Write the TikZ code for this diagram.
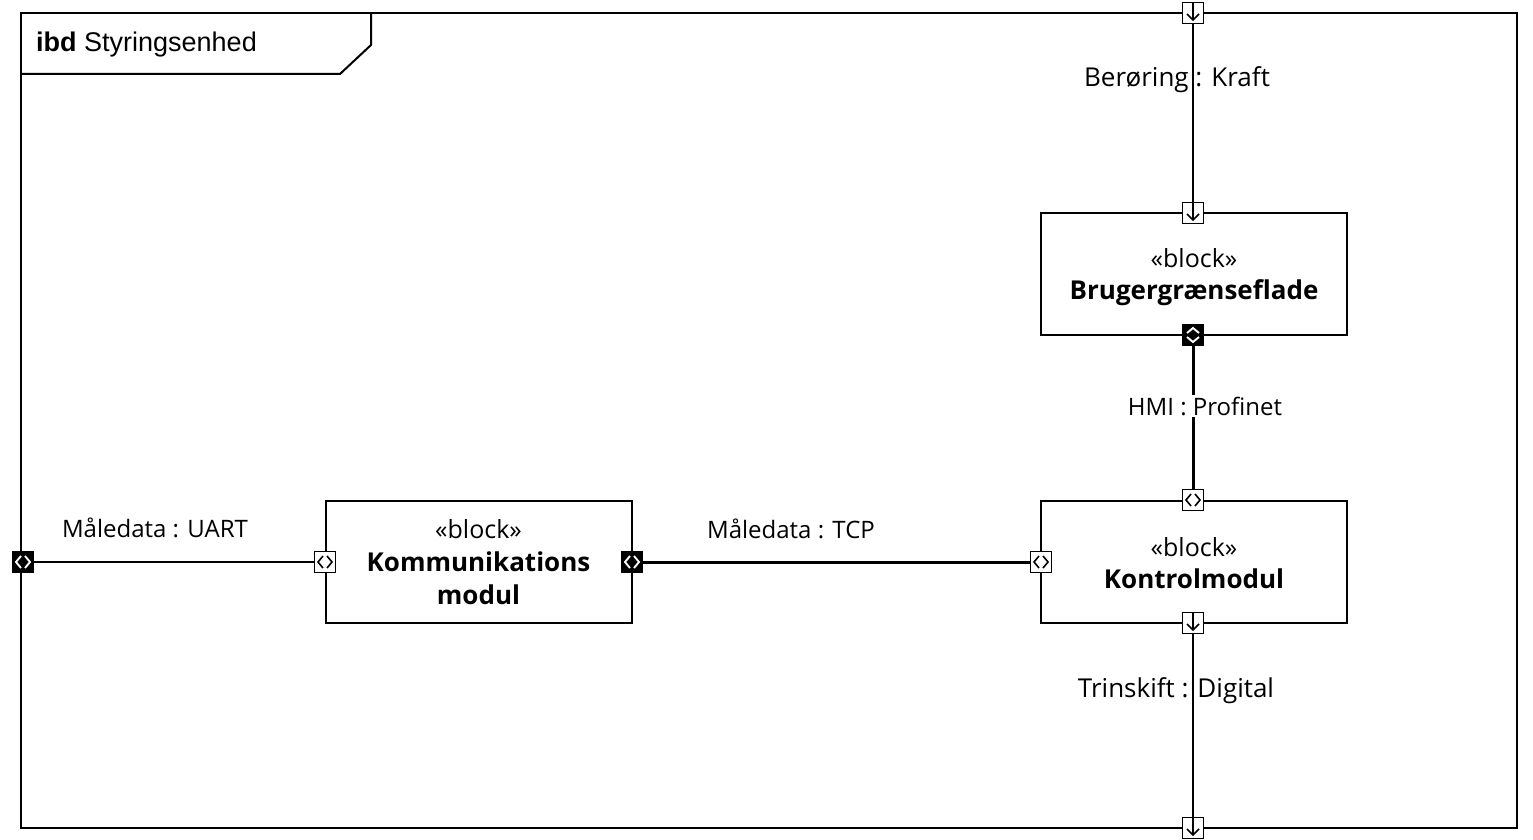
\documentclass[tikz,border=0pt]{standalone}
\usepackage{fontspec}
\setmainfont{Open Sans}
\newfontfamily\arialf{Liberation Sans}
\usetikzlibrary{calc}
\tikzset{
  every picture/.style={x=1pt,y=-1pt},
  frameline/.style={line width=2pt},
  blockbox/.style={draw, line width=2pt, minimum width=306pt, minimum height=122pt, inner sep=0pt, align=center, font=\fontsize{25}{32}\selectfont},
  portbase/.style={draw, line width=1.8pt, minimum size=21pt, inner sep=0pt},
  portw/.style={portbase, fill=white},
  portb/.style={portbase, fill=black},
  flowdown/.style={portw, path picture={
     \coordinate (pc) at (path picture bounding box.center);
     \draw[line width=1.6pt] ($(pc)+(0,-11)$) -- ($(pc)+(0,7)$);
     \draw[line width=1.6pt] ($(pc)+(-6,1)$) -- ($(pc)+(0,7)$) -- ($(pc)+(6,1)$);}},
  chevw/.style={portw, path picture={
     \coordinate (pc) at (path picture bounding box.center);
     \draw[line width=1.6pt] ($(pc)+(-2,-6)$) -- ($(pc)+(-7,0)$) -- ($(pc)+(-2,6)$);
     \draw[line width=1.6pt] ($(pc)+(2,-6)$) -- ($(pc)+(7,0)$) -- ($(pc)+(2,6)$);}},
  chevb/.style={portb, path picture={
     \coordinate (pc) at (path picture bounding box.center);
     \draw[white, line width=1.9pt] ($(pc)+(-2,-6)$) -- ($(pc)+(-7,0)$) -- ($(pc)+(-2,6)$);
     \draw[white, line width=1.9pt] ($(pc)+(2,-6)$) -- ($(pc)+(7,0)$) -- ($(pc)+(2,6)$);}},
  chevbv/.style={portb, path picture={
     \coordinate (pc) at (path picture bounding box.center);
     \draw[white, line width=1.9pt] ($(pc)+(-6,-2)$) -- ($(pc)+(0,-7)$) -- ($(pc)+(6,-2)$);
     \draw[white, line width=1.9pt] ($(pc)+(-6,2)$) -- ($(pc)+(0,7)$) -- ($(pc)+(6,2)$);}},
  thinconn/.style={line width=2pt},
  thickconn/.style={line width=3pt},
  lbl/.style={font=\fontsize{24}{28}\selectfont, inner sep=2pt},
  biglbl/.style={font=\fontsize{26}{30}\selectfont, inner sep=2pt},
}
\begin{document}
\begin{tikzpicture}
\useasboundingbox (0,0) rectangle (1533,840);
% frame
\draw[frameline] (21,13) rectangle (1517,828);
\draw[frameline] (21,74) -- (340,74) -- (371,45) -- (371,13);
\node[anchor=west, inner sep=0pt, font=\arialf\fontsize{27}{30}\selectfont] (title) at (36,45) {\textbf{ibd} Styringsenhed};
% blocks
\node[blockbox] (bg) at (1194,274) {};
\node[align=center, font=\fontsize{25}{32}\selectfont] (bgt) at (1194,277) {«block»\\\textbf{\fontsize{26}{32}\selectfont Brugergrænseflade}};
\node[blockbox] (km) at (478.5,561.5) {};
\node[align=center, font=\fontsize{25}{33}\selectfont] (kmt) at (478.5,562) {«block»\\\textbf{\fontsize{26}{33}\selectfont Kommunikations}\\\textbf{\fontsize{26}{33}\selectfont modul}};
\node[blockbox] (ko) at (1194,561.5) {};
\node[align=center, font=\fontsize{25}{32}\selectfont] (kot) at (1194,563) {«block»\\\textbf{\fontsize{26}{32}\selectfont Kontrolmodul}};
% ports
\node[flowdown] (ftop) at (1193,13) {};
\node[flowdown] (bgtop) at (1193,213) {};
\node[chevbv] (bgbot) at (1193,335) {};
\node[chevw] (kotop) at (1193,500) {};
\node[flowdown] (kobot) at (1193,623) {};
\node[flowdown] (fbot) at (1193,828) {};
\node[chevb] (fleft) at (23,562) {};
\node[chevw] (kmleft) at (325,562) {};
\node[chevb] (kmright) at (632,562) {};
\node[chevw] (koleft) at (1041,562) {};
% connectors
\draw[thinconn] (ftop) -- (bgtop);
\node[biglbl] (l1) at (1177,80) {Berøring : Kraft};
\draw[thickconn] (bgbot) -- (kotop);
\node[lbl, fill=white] (l2) at (1205,406) {HMI : Profinet};
\draw[thinconn] (kobot) -- (fbot);
\node[biglbl] (l3) at (1176,691) {Trinskift : Digital};
\draw[thinconn] (fleft) -- (kmleft);
\node[lbl] (l4) at (155,528) {Måledata : UART};
\draw[thickconn] (kmright) -- (koleft);
\node[lbl] (l5) at (791,529) {Måledata : TCP};
\end{tikzpicture}
\end{document}
